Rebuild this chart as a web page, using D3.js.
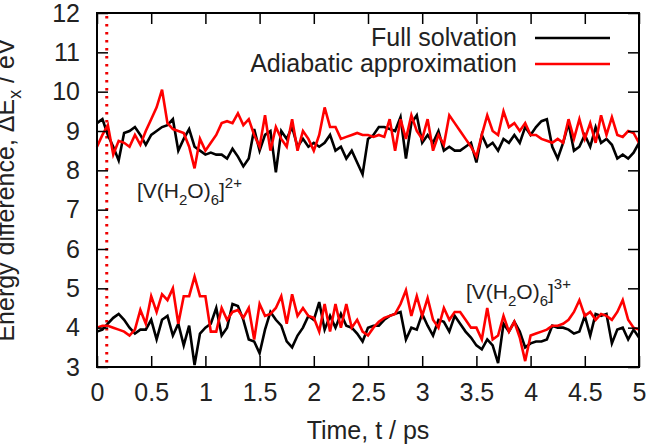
<!DOCTYPE html>
<html>
<head>
<meta charset="utf-8">
<script src="https://cdn.jsdelivr.net/npm/d3@7"></script>
<style>
  body { margin: 0; background: #fff; }
  svg { display: block; font-family: "Liberation Sans", Arial, Helvetica, sans-serif; }
</style>
</head>
<body>
<svg width="661" height="444"></svg>
<script>
// time step of the trajectories (ps)
const dt = 0.05;
const xTicks = [0, 0.5, 1, 1.5, 2, 2.5, 3, 3.5, 4, 4.5, 5];
const yTicks = [3, 4, 5, 6, 7, 8, 9, 10, 11, 12];
const markTime = 0.09;

// [V(H2O)6]2+ , full solvation
const full2 = [
  9.2, 9.3, 8.9, 8.6, 8.25, 8.95, 9.0, 9.1, 8.9, 8.65,
  8.9, 9.0, 9.1, 9.15, 9.3, 8.5, 8.8, 9.05, 8.6, 8.5,
  8.4, 8.45, 8.4, 8.4, 8.3, 8.55, 8.35, 8.1, 8.3, 9.05,
  8.5, 8.9, 9.0, 7.95, 9.0, 8.8, 9.1, 8.6, 8.8, 8.6,
  8.7, 8.6, 8.7, 8.9, 8.5, 8.6, 8.3, 8.5, 8.2, 7.9,
  8.8, 8.9, 9.1, 9.1, 9.05, 9.0, 9.35, 8.3, 9.2, 9.4,
  8.7, 8.9, 8.7, 9.0, 8.5, 8.6, 8.5, 8.5, 8.6, 8.7,
  8.2, 8.9, 8.6, 8.7, 8.5, 8.8, 8.7, 8.9, 8.7, 9.1,
  8.9, 9.1, 9.25, 9.3, 8.6, 8.3, 8.7, 9.2, 8.5, 8.6,
  8.9, 8.6, 9.1, 8.7, 8.8, 8.65, 8.3, 8.4, 8.3, 8.45,
  8.7
];
// [V(H2O)6]2+ , adiabatic approximation
const adia2 = [
  8.6, 8.9, 9.15, 8.4, 8.75, 8.7, 8.6, 8.9, 8.65, 9.0,
  9.3, 9.6, 10.05, 9.2, 9.05, 9.0, 8.95, 8.6, 8.05, 8.8,
  8.5, 8.7, 8.9, 9.2, 9.25, 9.2, 9.45, 9.15, 9.3, 8.9,
  8.6, 9.4, 8.5, 9.1, 8.8, 8.6, 9.3, 8.5, 9.0, 8.8,
  8.5, 8.9, 9.6, 9.1, 9.1, 8.8, 8.85, 8.9, 8.95, 8.9,
  8.9, 8.85, 8.9, 8.85, 9.3, 8.5, 9.3, 8.8, 9.4, 9.0,
  8.8, 9.3, 8.5, 8.9, 8.65, 9.4, 9.2, 9.0, 8.8, 8.6,
  8.35, 8.9, 9.4, 9.0, 8.9, 9.5, 9.1, 9.2, 9.0, 9.2,
  8.9, 8.9, 8.8, 8.75, 8.7, 8.8, 8.7, 9.3, 8.8, 9.3,
  8.8, 9.2, 8.7, 9.4, 8.9, 9.35, 8.9, 8.85, 9.0, 8.95,
  8.7
];
// [V(H2O)6]3+ , full solvation
const full3 = [
  3.9, 3.95, 4.1, 4.25, 4.35, 4.2, 4.0, 3.85, 3.95, 3.95,
  4.2, 3.7, 4.2, 4.3, 3.8, 4.1, 3.55, 4.05, 3.05, 3.85,
  4.0, 4.1, 4.5, 3.8, 4.0, 4.6, 4.55, 4.2, 3.7, 3.65,
  3.35, 3.95, 4.4, 4.2, 4.05, 3.65, 3.5, 3.8, 4.0, 4.3,
  4.2, 4.65, 3.95, 4.3, 4.0, 4.35, 4.05, 4.0, 3.85, 3.65,
  4.0, 4.05, 4.05, 4.2, 4.3, 4.35, 4.4, 3.7, 4.0, 3.95,
  4.35, 4.05, 3.8, 4.2, 4.15, 3.9, 4.3, 4.1, 3.9, 3.75,
  3.55, 3.45, 3.7, 3.55, 3.1, 4.1, 3.9, 4.15, 3.9, 3.5,
  3.6, 3.65, 3.65, 3.7, 4.05, 4.0, 4.0, 3.95, 3.85, 3.9,
  4.3, 3.8, 4.35, 4.3, 4.35, 3.6, 3.95, 4.0, 3.7, 3.95,
  3.75
];
// [V(H2O)6]3+ , adiabatic approximation
const adia3 = [
  4.0, 4.05, 4.05, 4.0, 3.95, 3.9, 3.8, 3.95, 4.45, 4.1,
  4.8, 4.4, 4.85, 4.7, 5.0, 4.1, 4.8, 4.8, 5.3, 4.8,
  4.8, 3.9, 3.9, 4.5, 4.2, 4.4, 4.45, 4.25, 4.5, 3.7,
  4.6, 4.3, 4.35, 4.5, 4.8, 4.1, 4.85, 4.3, 4.5, 4.3,
  4.25, 3.9, 4.6, 3.9, 4.6, 4.0, 4.6, 4.0, 4.2, 3.9,
  3.8, 4.0, 4.15, 4.25, 4.3, 4.35, 4.6, 4.95, 4.3, 4.8,
  4.3, 4.75, 4.2, 4.0, 4.5, 4.2, 4.4, 4.4, 4.2, 4.0,
  4.0, 3.7, 4.5, 3.7, 3.8, 4.3, 3.9, 4.15, 3.75, 3.15,
  3.8, 3.85, 3.9, 3.95, 4.05, 4.05, 4.1, 4.2, 4.4, 4.7,
  4.3, 4.4, 4.2, 4.35, 4.3, 4.2, 4.4, 4.7, 4.2, 4.0,
  3.95
];

const svg = d3.select("svg");
const plot = {left: 97, right: 639, top: 13, bottom: 367};
const font = "'Liberation Sans', Arial, Helvetica, sans-serif";

const x = d3.scaleLinear().domain([0, 5]).range([plot.left, plot.right]);
const y = d3.scaleLinear().domain([3, 12]).range([plot.bottom, plot.top]);

const line = d3.line()
  .x((d, i) => x(i * dt))
  .y(d => y(d));

// red dotted marker
svg.append("line")
  .attr("x1", x(markTime)).attr("x2", x(markTime))
  .attr("y1", y(12) + 3).attr("y2", y(3))
  .attr("stroke", "#ee0000")
  .attr("stroke-width", 3)
  .attr("stroke-dasharray", "2.5,5.5");

// traces
const series = [
  {data: full2, color: "#000"},
  {data: full3, color: "#000"},
  {data: adia2, color: "#ff0000"},
  {data: adia3, color: "#ff0000"}
];
svg.selectAll(".trace")
  .data(series)
  .enter().append("path")
  .attr("class", "trace")
  .attr("d", d => line(d.data))
  .attr("fill", "none")
  .attr("stroke", d => d.color)
  .attr("stroke-width", 2.6)
  .attr("stroke-linejoin", "miter");

// axes, gnuplot style ticks inside on all four sides
const fmt = d => String(d);
function styleAxis(g) {
  g.select(".domain").remove();
  g.selectAll(".tick line").attr("stroke", "#000").attr("stroke-width", 1.5);
  g.selectAll("text")
    .attr("fill", "#222")
    .style("font-size", "25px")
    .style("font-family", font);
}

svg.append("g")
  .attr("transform", `translate(0,${plot.bottom})`)
  .call(d3.axisBottom(x).tickValues(xTicks).tickFormat(fmt).tickSize(-11).tickPadding(16))
  .call(styleAxis);

svg.append("g")
  .attr("transform", `translate(0,${plot.top})`)
  .call(d3.axisTop(x).tickValues(xTicks).tickFormat("").tickSize(-11))
  .call(styleAxis);

svg.append("g")
  .attr("transform", `translate(${plot.left},0)`)
  .call(d3.axisLeft(y).tickValues(yTicks).tickFormat(fmt).tickSize(-11).tickPadding(17))
  .call(styleAxis);

svg.append("g")
  .attr("transform", `translate(${plot.right},0)`)
  .call(d3.axisRight(y).tickValues(yTicks).tickFormat("").tickSize(-11))
  .call(styleAxis);

svg.append("rect")
  .attr("x", plot.left).attr("y", plot.top)
  .attr("width", plot.right - plot.left)
  .attr("height", plot.bottom - plot.top)
  .attr("fill", "none")
  .attr("stroke", "#000")
  .attr("stroke-width", 2);

// axis titles
svg.append("text")
  .attr("x", (plot.left + plot.right) / 2)
  .attr("y", 439)
  .attr("text-anchor", "middle")
  .attr("fill", "#222")
  .style("font-size", "25px")
  .text("Time, t / ps");

const yTitle = svg.append("text")
  .attr("transform", "translate(14,190) rotate(-90)")
  .attr("text-anchor", "middle")
  .attr("fill", "#222")
  .style("font-size", "25px");
yTitle.append("tspan").text("Energy difference, ΔE");
yTitle.append("tspan").attr("dy", 7).style("font-size", "18px").text("x");
yTitle.append("tspan").attr("dy", -7).text(" / eV");

// legend
const legend = [
  {label: "Full solvation", color: "#000", y: 38},
  {label: "Adiabatic approximation", color: "#ff0000", y: 64}
];
const lg = svg.selectAll(".legend")
  .data(legend)
  .enter().append("g")
  .attr("class", "legend");
lg.append("text")
  .attr("x", 517)
  .attr("y", d => d.y + 8)
  .attr("text-anchor", "end")
  .attr("fill", "#222")
  .style("font-size", "25px")
  .text(d => d.label);
lg.append("line")
  .attr("x1", 535).attr("x2", 610)
  .attr("y1", d => d.y).attr("y2", d => d.y)
  .attr("stroke", d => d.color)
  .attr("stroke-width", 2.6);

// complex labels
function chemLabel(px, py, charge) {
  const t = svg.append("text")
    .attr("x", px).attr("y", py)
    .attr("fill", "#222")
    .style("font-size", "21px");
  t.append("tspan").text("[V(H");
  t.append("tspan").attr("dy", 7).style("font-size", "15px").text("2");
  t.append("tspan").attr("dy", -7).text("O)");
  t.append("tspan").attr("dy", 7).style("font-size", "15px").text("6");
  t.append("tspan").attr("dy", -7).text("]");
  t.append("tspan").attr("dy", -10).style("font-size", "15px").text(charge);
}
chemLabel(137, 198, "2+");
chemLabel(466, 299, "3+");
</script>
</body>
</html>
